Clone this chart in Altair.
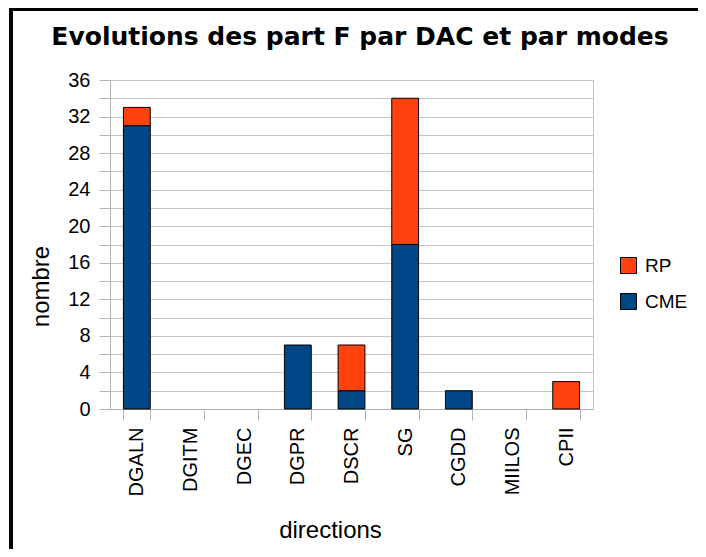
import altair as alt
import pandas as pd

directions = ["DGALN", "DGITM", "DGEC", "DGPR", "DSCR", "SG", "CGDD", "MIILOS", "CPII"]
cme = [31, 0, 0, 7, 2, 18, 2, 0, 0]
rp = [2, 0, 0, 0, 5, 16, 0, 0, 3]
title_text = "Evolutions des part F par DAC et par modes"

rows = []
for d, c, r in zip(directions, cme, rp):
    rows.append({"direction": d, "mode": "CME", "nombre": c, "ordre": 0})
    rows.append({"direction": d, "mode": "RP", "nombre": r, "ordre": 1})
df = pd.DataFrame(rows)
one = pd.DataFrame({"k": [0]})

FONT = "Liberation Sans"

bars = alt.Chart(df).transform_filter("datum.nombre > 0").mark_bar(
    stroke="black", strokeWidth=1
).encode(
    x=alt.X("direction:N", sort=directions,
            scale=alt.Scale(domain=directions, paddingInner=0.5, paddingOuter=0.25),
            axis=alt.Axis(title="directions", labelAngle=-90, labelAlign="right",
                          labelBaseline="middle", labelFontSize=20, labelPadding=7,
                          tickBand="extent", tickSize=11, tickColor="#b3b3b3",
                          domainColor="#b3b3b3", grid=False,
                          titleFontSize=24, titleFontWeight="normal",
                          titleX=220, titleY=128, titleBaseline="alphabetic",
                          titleAlign="center", labelColor="black",
                          titleColor="black")),
    y=alt.Y("nombre:Q", stack="zero",
            scale=alt.Scale(domain=[0, 36], nice=False),
            axis=alt.Axis(title="nombre", values=list(range(0, 37, 2)),
                          labelExpr="datum.value % 4 == 0 ? datum.label : ''",
                          labelFontSize=20, labelPadding=9, tickSize=11,
                          tickColor="#b3b3b3", domainColor="#b3b3b3",
                          gridColor="#c6c6c6", titleFontSize=24,
                          titleFontWeight="normal", titleX=-62, titleY=206,
                          titleAngle=270, titleBaseline="alphabetic",
                          titleAlign="center",
                          labelColor="black", titleColor="black")),
    color=alt.Color("mode:N",
                    scale=alt.Scale(domain=["RP", "CME"], range=["#ff420e", "#004586"]),
                    legend=alt.Legend(title=None, orient="none", legendX=509, legendY=176,
                                      symbolType="square", symbolSize=256,
                                      symbolStrokeColor="black", symbolStrokeWidth=1,
                                      labelFontSize=19, rowPadding=15, labelOffset=7,
                                      labelColor="black")),
    order=alt.Order("ordre:Q"),
)

title = alt.Chart(one).mark_text(
    text=title_text, font="DejaVu Sans", fontWeight="bold", fontSize=25,
    align="center", baseline="alphabetic", color="black"
).encode(x=alt.value(250), y=alt.value(-35))

left_border = alt.Chart(one).mark_rule(color="black", strokeWidth=4).encode(
    x=alt.value(-99), y=alt.value(-72), y2=alt.value(470)
)
top_border = alt.Chart(one).mark_rule(color="black", strokeWidth=3).encode(
    x=alt.value(-101), x2=alt.value(588), y=alt.value(-70.5)
)

chart = alt.layer(bars, title, left_border, top_border).properties(
    width=483, height=329,
    autosize=alt.AutoSizeParams(type="none"),
    padding={"left": 102, "top": 72, "right": 105, "bottom": 140},
).configure(font=FONT).configure_view(stroke="#c6c6c6")

chart.save("out.html", embed_options={"renderer": "svg", "actions": False})
